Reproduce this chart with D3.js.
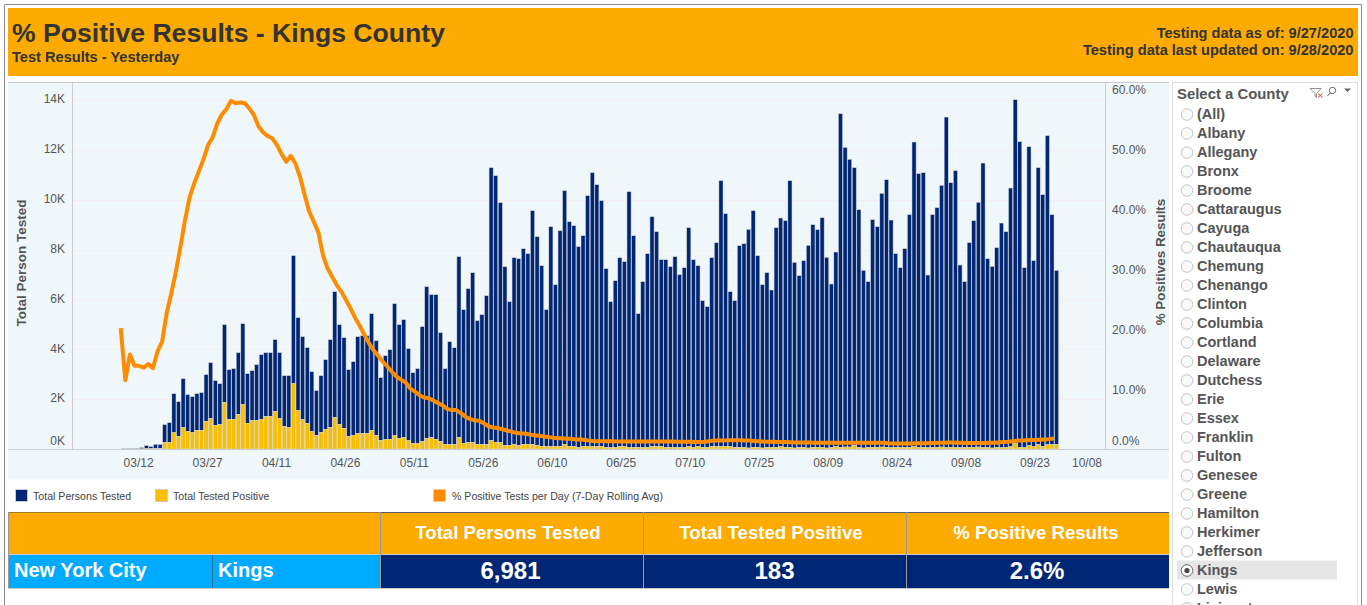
<!DOCTYPE html>
<html><head><meta charset="utf-8">
<script src="https://cdn.jsdelivr.net/npm/d3@7/dist/d3.min.js"></script>
<style>
html,body{margin:0;padding:0;background:#fff;overflow:hidden}
svg{display:block;font-family:"Liberation Sans",Arial,sans-serif}
</style></head><body><div id="c"></div>
<script>
const firstDate = "2020-03-08";
const personsTested = [10,15,20,20,50,130,90,170,170,
709,789,1564,1390,1952,1471,1431,1471,1511,1872,2233,1792,1631,3115,1992,2032,2473,3236,1992,1992,2233,2594,2554,2554,2875,2634,2032,2072,5121,3717,3316,3035,2393,1792,2273,2794,3516,5040,3998,3637,2674,2955,3877,3917,3917,4680,3797,2514,3356,3597,5281,4559,4720,3677,
2834,2995,4599,6083,5722,5803,4359,3035,4118,3877,7247,5361,6164,6805,4960,5201,5963,10937,10696,9613,7166,5762,7487,7487,7848,7648,9372,8370,7247,5482,8811,6484,8650,10175,9011,8851,8049,8450,10054,10977,10495,9854,7166,5843,6685,7567,7407,10255,8490,5361,6645,7768,9212,8610,7487,7527,7247,7648,6926,7206,8771,7527,7247,5883,5642,7567,8169,10656,9332,6217,5883,8089,
8169,8771,9493,7688,6551,7006,6311,8811,9172,9092,10696,7447,6886,7487,8129,8931,8731,9212,7648,6551,7808,13383,12020,11538,11151,9533,7126,6645,9132,8851,10175,10736,9132,7768,7206,7968,9332,12220,10977,11017,6926,9332,9613,10495,13263,10616,11097,7327,6645,8209,9092,9813,11418,7567,7287,8009,9011,8650,10375,13784,12260,7220,11993,7460,11110,10094,12394,9225,6981];
const testedPositive = [0,0,0,0,5,10,10,15,15,
267,267,655,508,869,709,669,749,749,1110,1230,949,989,1872,1190,1190,1390,1792,1029,1150,1150,1190,1310,1310,1511,1230,909,869,2634,1551,1190,1029,709,548,669,789,869,1270,989,829,508,548,628,628,628,749,548,348,388,388,548,428,468,348,
227,227,308,428,468,388,308,187,187,187,468,227,267,267,187,187,187,348,267,267,147,147,187,147,187,187,187,147,107,107,107,107,107,187,107,107,67,107,107,107,107,107,67,67,67,107,107,67,67,67,67,67,107,107,107,67,67,67,67,67,107,67,107,67,67,107,107,107,107,94,67,67,
67,40,67,67,40,67,67,67,94,67,67,40,67,67,40,67,67,67,40,67,94,67,80,80,134,67,40,67,67,67,80,67,53,67,67,67,67,94,67,67,53,67,67,80,53,67,67,53,67,67,67,80,53,67,40,67,53,67,94,227,67,53,134,94,174,107,174,174,183];
const pctPositive = [20.2,11.5,15.8,13.9,13.9,13.6,14.2,13.5,16.3,17.9,22.7,26.0,29.6,33.8,38.3,42.1,44.4,46.4,48.4,50.8,52.1,54.4,55.9,56.8,58.2,57.8,57.9,57.8,56.9,55.8,53.9,52.9,52.3,51.9,50.8,49.3,48.0,49.0,47.7,45.5,42.5,39.7,38.0,36.2,32.4,30.2,28.8,27.4,26.3,24.9,23.5,21.9,20.6,19.1,17.7,16.5,15.6,14.6,13.8,12.9,12.1,11.6,11.1,10.1,
9.6,9.0,8.6,8.5,8.1,7.7,7.3,6.7,6.5,6.5,6.0,5.4,5.0,4.8,4.7,4.3,3.8,3.6,3.5,3.3,3.1,2.9,2.7,2.6,2.6,2.4,2.3,2.2,2.1,2.0,1.9,1.8,1.8,1.7,1.7,1.6,1.6,1.5,1.4,1.3,1.3,1.3,1.3,1.3,1.25,1.25,1.25,1.25,1.25,1.25,1.25,1.25,1.25,1.25,1.25,1.25,1.25,1.2,1.2,1.2,1.2,1.15,1.15,1.2,1.3,1.4,1.4,1.4,1.45,1.45,1.45,1.45,1.4,1.4,1.3,1.3,
1.2,1.2,1.2,1.15,1.15,1.15,1.1,1.1,1.1,1.1,1.1,1.05,1.05,1.05,1.05,1.05,1.05,1.05,1.05,1.05,1.05,1.05,1.05,1.05,1.05,1.05,1.05,0.95,0.9,0.9,0.9,0.9,0.9,0.95,0.95,0.95,1.0,1.0,1.05,1.05,1.1,1.1,1.05,1.05,1.0,1.0,1.0,1.0,1.0,1.05,1.05,1.1,1.15,1.2,1.3,1.4,1.4,1.45,1.5,1.5,1.55,1.6,1.65,1.75,2.0];
const xTickDates = ["2020-03-12","2020-03-27","2020-04-11","2020-04-26","2020-05-11","2020-05-26","2020-06-10","2020-06-25","2020-07-10","2020-07-25","2020-08-09","2020-08-24","2020-09-08","2020-09-23","2020-10-08"];
const leftTicks = [0,2000,4000,6000,8000,10000,12000,14000];
const rightTicks = [0,10,20,30,40,50,60];
const counties = ["(All)","Albany","Allegany","Bronx","Broome","Cattaraugus","Cayuga","Chautauqua","Chemung","Chenango","Clinton","Columbia","Cortland","Delaware","Dutchess","Erie","Essex","Franklin","Fulton","Genesee","Greene","Hamilton","Herkimer","Jefferson","Kings","Lewis","Livingston"];
const legendItems = ["Total Persons Tested","Total Tested Positive","% Positive Tests per Day (7-Day Rolling Avg)"];
const tableHeaders = ["Total Persons Tested","Total Tested Positive","% Positive Results"];
const tableValues = ["6,981","183","2.6%"];
const rowLabels = ["New York City","Kings"];

const NAVY="#002776", YEL="#f9be00", ORG="#ff8c00", HDR="#fdab00", SKY="#00aaff", TXT="#555";
const svg=d3.select("#c").append("svg").attr("width",1367).attr("height",605);
const parse=d3.utcParse("%Y-%m-%d");
const d0=parse(firstDate);
const dates=personsTested.map((_,i)=>d3.utcDay.offset(d0,i));
const rows=dates.map((d,i)=>({date:d,tested:personsTested[i],positive:testedPositive[i],pct:pctPositive[i]}));

// page frame
svg.append("path").attr("d","M4.5,605V4.5H1361.5V605").attr("fill","none").attr("stroke","#8c8c8c");
// header
svg.append("rect").attr("x",8).attr("y",8).attr("width",1350).attr("height",68).attr("fill",HDR);
svg.append("text").attr("x",12).attr("y",42).attr("font-size",26.6).attr("font-weight",700).attr("fill","#333").text("% Positive Results - Kings County");
svg.append("text").attr("x",12).attr("y",62).attr("font-size",14.6).attr("font-weight",700).attr("fill","#333").text("Test Results - Yesterday");
svg.append("text").attr("x",1353.5).attr("y",38).attr("text-anchor","end").attr("font-size",14.6).attr("font-weight",700).attr("fill","#333").text("Testing data as of: 9/27/2020");
svg.append("text").attr("x",1353.5).attr("y",55).attr("text-anchor","end").attr("font-size",14.6).attr("font-weight",700).attr("fill","#333").text("Testing data last updated on: 9/28/2020");

// plot panel
svg.append("rect").attr("x",8).attr("y",82).attr("width",1161).attr("height",397.5).attr("fill","#f0f7fb");
svg.append("line").attr("x1",8).attr("x2",1169).attr("y1",82.5).attr("y2",82.5).attr("stroke","#ccc");
svg.append("line").attr("x1",72.5).attr("x2",72.5).attr("y1",82).attr("y2",449).attr("stroke","#ccc");
svg.append("line").attr("x1",1105.5).attr("x2",1105.5).attr("y1",82).attr("y2",449).attr("stroke","#ccc");

const x=d3.scaleUtc().domain([d0,dates[dates.length-1]]).range([120.7,1053.9]);
const yL=d3.scaleLinear().domain([0,14000]).range([449,100]);
const yR=d3.scaleLinear().domain([0,60]).range([449,90]);
const barOffset=2.65, step=x(dates[1])-x(dates[0]);

svg.append("g").selectAll("line").data(leftTicks.slice(1)).join("line")
  .attr("x1",73).attr("x2",1105).attr("y1",d=>Math.round(yL(d))+.5).attr("y2",d=>Math.round(yL(d))+.5).attr("stroke","#f6eeee");

const stack=d3.stack().keys(["positive","tested"])(rows);
const colors={positive:YEL,tested:NAVY};
svg.append("g").selectAll("g").data(stack.slice().reverse()).join("g").attr("fill",s=>colors[s.key])
 .selectAll("rect").data(s=>s).join("rect")
  .attr("x",d=>x(d.data.date)+barOffset-step/2+.25)
  .attr("width",step-.5)
  .attr("y",d=>yL(d[1]))
  .attr("height",d=>Math.max(0,yL(d[0])-yL(d[1])))
  .attr("stroke","#d4d4d4").attr("stroke-width",.5);

svg.append("line").attr("x1",8).attr("x2",1169).attr("y1",449.5).attr("y2",449.5).attr("stroke","#ccc");

svg.append("path").datum(rows).attr("fill","none").attr("stroke",ORG).attr("stroke-width",4).attr("stroke-linejoin","round")
  .attr("d",d3.line().x(d=>x(d.date)).y(d=>yR(d.pct)));

// axes
const xAxis=d3.axisBottom(x).tickValues(xTickDates.map(parse)).tickFormat(d3.utcFormat("%m/%d")).tickSize(0);
const gx=svg.append("g").attr("transform","translate(-1,449)").call(xAxis);
gx.select(".domain").remove();
gx.selectAll("text").attr("y",9).attr("dy","0.71em").attr("font-size",12).attr("fill",TXT).attr("font-family","Liberation Sans");
gx.selectAll(".tick").filter(d=>+d===+parse("2020-10-08")).attr("transform",`translate(1088,0)`);

const gl=svg.append("g").attr("transform","translate(65,-1)").call(d3.axisLeft(yL).tickValues(leftTicks).tickSize(0).tickFormat(d=>d/1000+"K"));
gl.select(".domain").remove();
gl.selectAll("text").attr("font-size",12).attr("fill",TXT).attr("font-family","Liberation Sans").attr("x",0).attr("dy","0.32em");
gl.selectAll(".tick").filter(d=>d===0).attr("transform","translate(0,442)");

const gr=svg.append("g").attr("transform","translate(1112,0)").call(d3.axisRight(yR).tickValues(rightTicks).tickSize(0).tickFormat(d=>d.toFixed(1)+"%"));
gr.select(".domain").remove();
gr.selectAll("text").attr("font-size",12).attr("fill",TXT).attr("font-family","Liberation Sans").attr("x",0).attr("dy","0.32em");
gr.selectAll(".tick").filter(d=>d===0).attr("transform","translate(0,441)");

svg.append("text").attr("transform","translate(26,263) rotate(-90)").attr("text-anchor","middle").attr("font-size",13.5).attr("font-weight",700).attr("fill",TXT).text("Total Person Tested");
svg.append("text").attr("transform","translate(1165,262) rotate(-90)").attr("text-anchor","middle").attr("font-size",13.4).attr("font-weight",700).attr("fill",TXT).text("% Positives Results");

// legend
const legX=[15,155,433], legTX=[33,173,452], legC=[NAVY,YEL,ORG];
legendItems.forEach((t,i)=>{
  svg.append("rect").attr("x",legX[i]+.5).attr("y",489.5).attr("width",12).attr("height",12).attr("fill",legC[i]).attr("stroke",i<2?"#ccc":"none");
  svg.append("text").attr("x",legTX[i]).attr("y",500).attr("font-size",10.6).attr("fill","#444").text(t);
});

// table
const headCx=[508,771,1036], valCx=[510.5,774.5,1037];
svg.append("rect").attr("x",8).attr("y",512).attr("width",1161).attr("height",42).attr("fill",HDR);
svg.append("rect").attr("x",8).attr("y",555).attr("width",372).attr("height",33).attr("fill",SKY);
svg.append("rect").attr("x",380).attr("y",555).attr("width",789).attr("height",33).attr("fill","#002776");
svg.append("line").attr("x1",8).attr("x2",380).attr("y1",512.5).attr("y2",512.5).attr("stroke","#9a7d20");
svg.append("line").attr("x1",380).attr("x2",1169).attr("y1",512.5).attr("y2",512.5).attr("stroke","#555a70");
svg.append("line").attr("x1",8).attr("x2",1169).attr("y1",554.5).attr("y2",554.5).attr("stroke","#ccc");
svg.append("line").attr("x1",8).attr("x2",1169).attr("y1",588.5).attr("y2",588.5).attr("stroke","#ccc");
[8,212,380,643,906].forEach(v=>{
  svg.append("line").attr("x1",v+.5).attr("x2",v+.5).attr("y1",v===212?555:512).attr("y2",588).attr("stroke",v===212?"#2a6f9a":"#999");
});
tableHeaders.forEach((t,i)=>{
  svg.append("text").attr("x",headCx[i]).attr("y",539).attr("text-anchor","middle").attr("font-size",18.6).attr("font-weight",700).attr("fill","#fff").text(t);
  svg.append("text").attr("x",valCx[i]).attr("y",579).attr("text-anchor","middle").attr("font-size",24).attr("font-weight",700).attr("fill","#fff").text(tableValues[i]);
});
svg.append("text").attr("x",14).attr("y",577).attr("font-size",20).attr("font-weight",700).attr("fill","#fff").text(rowLabels[0]);
svg.append("text").attr("x",218).attr("y",577).attr("font-size",20).attr("font-weight",700).attr("fill","#fff").text(rowLabels[1]);

// county filter
svg.append("path").attr("d","M1172.5,605V82.5H1357.5V605").attr("fill","none").attr("stroke","#ddd");
svg.append("text").attr("x",1177).attr("y",99).attr("font-size",14.9).attr("font-weight",700).attr("fill",TXT).text("Select a County");
const icons=svg.append("g").attr("fill","none");
icons.append("path").attr("d","M1310,88.5H1321L1316.5,93.5V97.5L1315,96V93.5Z").attr("stroke","#777").attr("stroke-width",.8);
icons.append("path").attr("d","M1318,93.5L1322.5,97.5M1322.5,93.5L1318,97.5").attr("stroke","#d33").attr("stroke-width",1);
icons.append("circle").attr("cx",1332.5).attr("cy",90.5).attr("r",3.2).attr("stroke","#555").attr("stroke-width",.9);
icons.append("path").attr("d","M1330.2,93L1327.5,96").attr("stroke","#555");
svg.append("path").attr("d","M1344,88.5H1351L1347.5,92Z").attr("fill","#666");
const rowY=d3.scaleLinear().domain([0,1]).range([114,133]);
counties.forEach((c,i)=>{
  const cy=rowY(i);
  if(c==="Kings") svg.append("rect").attr("x",1177).attr("y",cy-9.5).attr("width",160).attr("height",19).attr("fill","#e6e6e6");
  svg.append("circle").attr("cx",1187).attr("cy",cy+.5).attr("r",5.8).attr("fill",c==="Kings"?"#fff":"#f9f9f9").attr("stroke",c==="Kings"?"#666":"#c4c4c4");
  if(c==="Kings") svg.append("circle").attr("cx",1187).attr("cy",cy+.5).attr("r",2.6).attr("fill","#444");
  svg.append("text").attr("x",1197).attr("y",cy+5).attr("font-size",14.5).attr("font-weight",700).attr("fill",TXT).text(c);
});
</script></body></html>
